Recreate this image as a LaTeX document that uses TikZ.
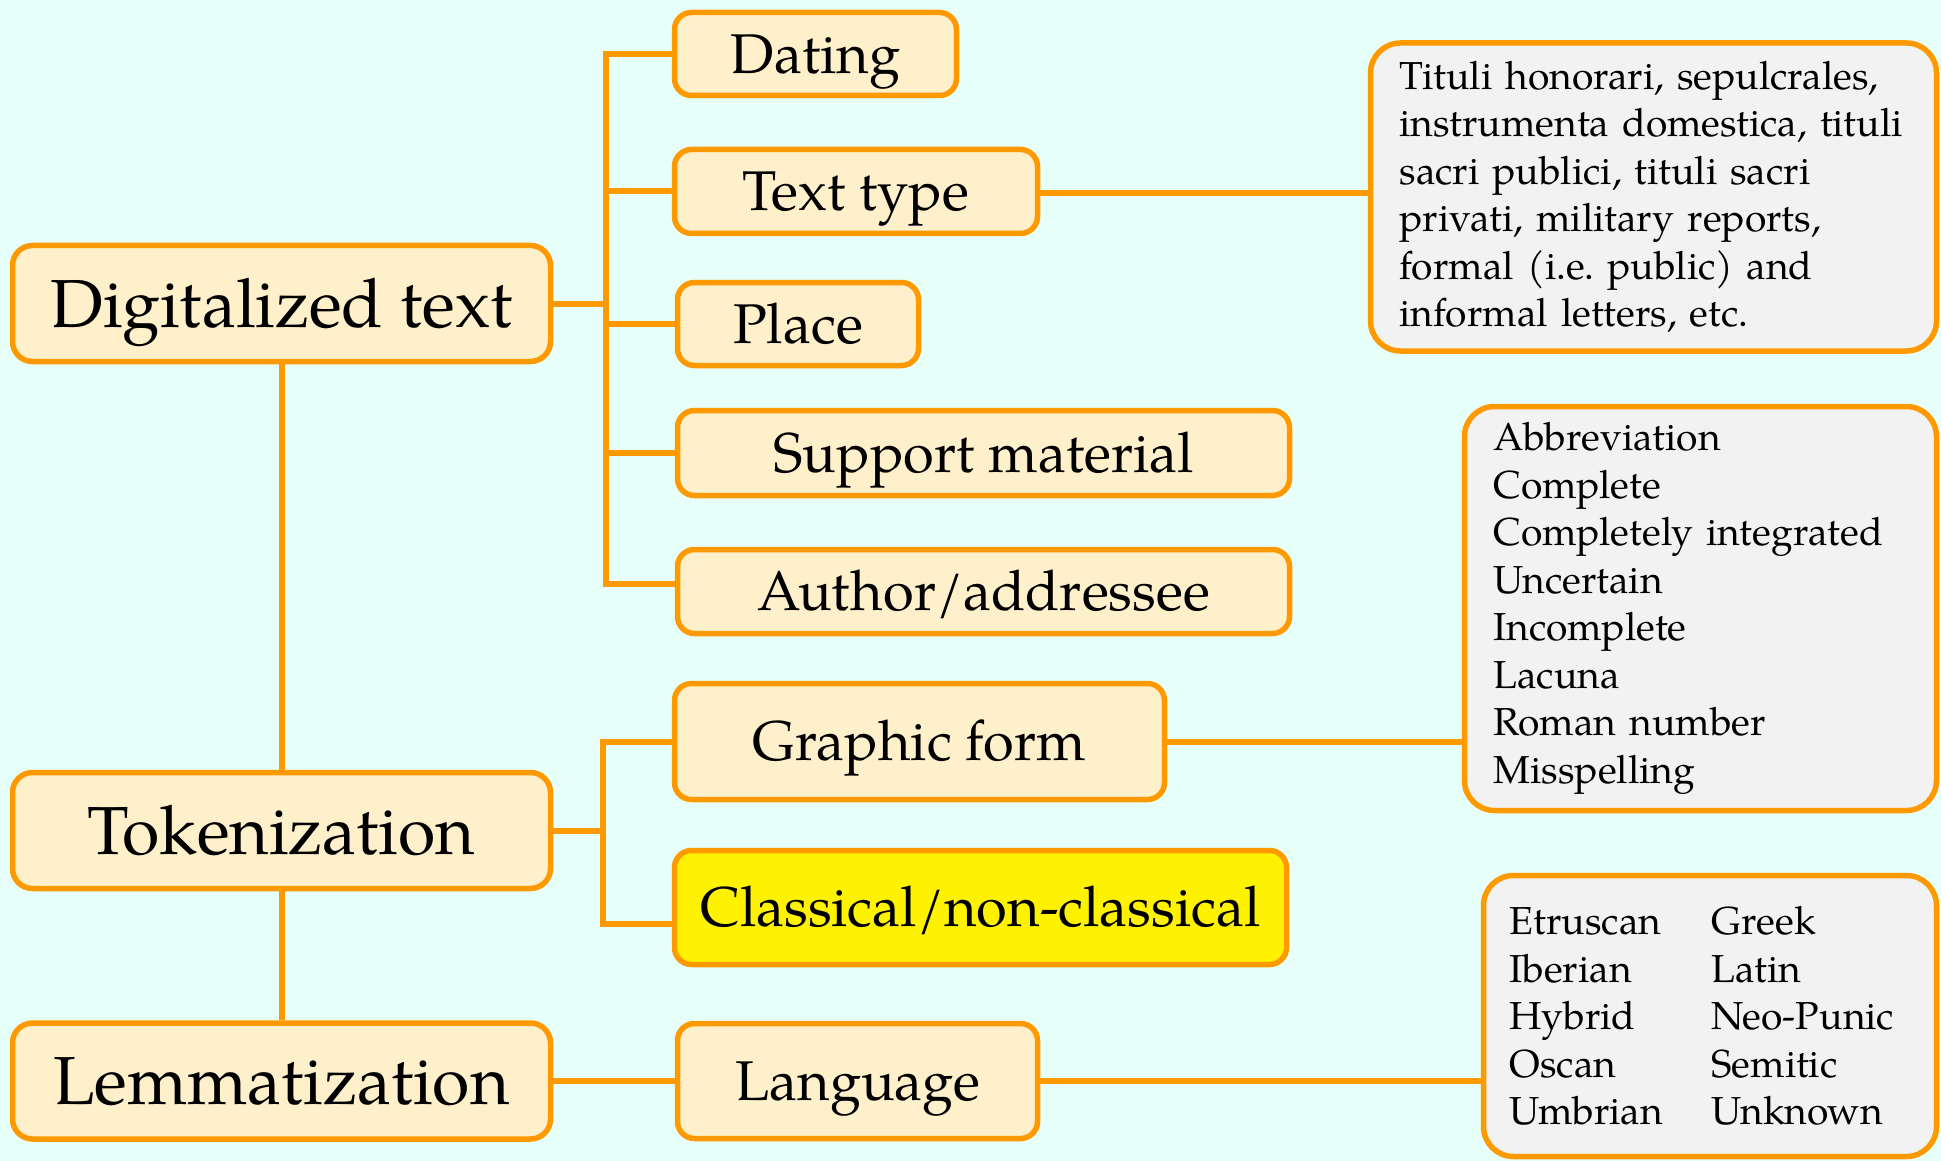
\documentclass[tikz,border=0pt]{standalone}
\usepackage{fontspec}
\setmainfont{TeX Gyre Pagella}
\usepackage{tikz}
\usetikzlibrary{positioning}
\definecolor{bgcyan}{HTML}{E6FFF9}
\definecolor{boxorange}{HTML}{FF9900}
\definecolor{boxcream}{HTML}{FFF0CC}
\definecolor{notegray}{HTML}{F2F2F2}

\begin{document}
\begin{tikzpicture}[x=1pt,y=-1pt,
	level/.style={draw=boxorange,line width=5.5pt,fill=boxcream,rounded corners=20pt,inner sep=0pt,minimum width=538pt,minimum height=116pt,text height=47pt,text depth=0pt,font=\fontsize{68}{76}\selectfont},
	field/.style={draw=boxorange,line width=5.5pt,fill=boxcream,rounded corners=17pt,inner sep=0pt,text height=38.5pt,text depth=0pt,font=\fontsize{56}{64}\selectfont},
	note/.style={draw=boxorange,line width=5.5pt,fill=notegray,rounded corners=30pt,align=left,inner ysep=0pt,font=\fontsize{39}{47.5}\selectfont},
	link/.style={boxorange,line width=6pt}]
	\useasboundingbox (0,0) rectangle (1941,1161);
	\fill [bgcyan] (0,0) rectangle (1941,1161);
	% Levels %
	\node [level] (dig) at (281.5,303.5) {Digitalized text};
	\node [level] (tok) at (281.5,830.5) {Tokenization};
	\node [level] (lem) at (281.5,1081) {Lemmatization};
	% Fields %
	\node [field,minimum width=282pt,minimum height=83pt] (dat) at (815.5,54) {Dating};
	\node [field,minimum width=363pt,minimum height=84pt] (typ) at (856,191.5) {Text type};
	\node [field,minimum width=241pt,minimum height=83pt] (plc) at (798,324) {Place};
	\node [field,minimum width=612pt,minimum height=85pt] (sup) at (983.5,453) {Support material};
	\node [field,minimum width=612pt,minimum height=84pt] (aut) at (983.5,591.5) {Author/addressee};
	\node [field,minimum width=490pt,minimum height=116pt] (gfm) at (919.5,741.5) {Graphic form};
	\node [field,minimum width=612pt,minimum height=114pt,fill=yellow] (cls) at (980.5,907.5) {Classical/non-classical};
	\node [field,minimum width=360pt,minimum height=115pt] (lng) at (857.5,1081) {Language};
	% Notes %
	\node [note,inner xsep=29pt,text width=508pt,minimum height=308pt] (typn) at (1653.5,197) {\hyphenpenalty=10000\relax Tituli honorari, sepulcrales,\\ instrumenta domestica, tituli\\ sacri publici, tituli sacri\\ privati, military reports,\\ formal (i.e.\ public) and\\ informal letters, etc.};
	\node [note,inner xsep=29pt,text width=414pt,minimum height=404pt] (gfmn) at (1700.5,608.5) {Abbreviation\\ Complete\\ Completely integrated\\ Uncertain\\ Incomplete\\ Lacuna\\ Roman number\\ Misspelling};
	\node [note,inner xsep=26pt,text width=401pt,minimum height=281pt] (lngn) at (1710,1016) {\makebox[202pt][l]{Etruscan}Greek\\ \makebox[202pt][l]{Iberian}Latin\\ \makebox[202pt][l]{Hybrid}Neo-Punic\\ \makebox[202pt][l]{Oscan}Semitic\\ \makebox[202pt][l]{Umbrian}Unknown};
	% Lines %
	\draw [link] (dig) -- (tok);
	\draw [link] (tok) -- (lem);
	\draw [link] (lem) -- (lng);
	\draw [link] (dig.east) -- ++(53,0) coordinate (digj);
	\draw [link] (dat.west) -| (digj) |- ([yshift=8pt]aut.west);
	\foreach \n in {typ,plc,sup} \draw [link] (digj |- \n.west) -- (\n.west);
	\draw [link] (tok.east) -- ++(50,0) coordinate (tokj);
	\draw [link] (gfm.west) -| (tokj) |- ([yshift=-16pt]cls.west);
	\draw [link] ([yshift=-2pt]typ.east) -- ([yshift=-2pt]typ.east -| typn.west);
	\draw [link] (gfm.east) -- (gfm.east -| gfmn.west);
	\draw [link] (lng.east) -- (lng.east -| lngn.west);
\end{tikzpicture}
\end{document}
